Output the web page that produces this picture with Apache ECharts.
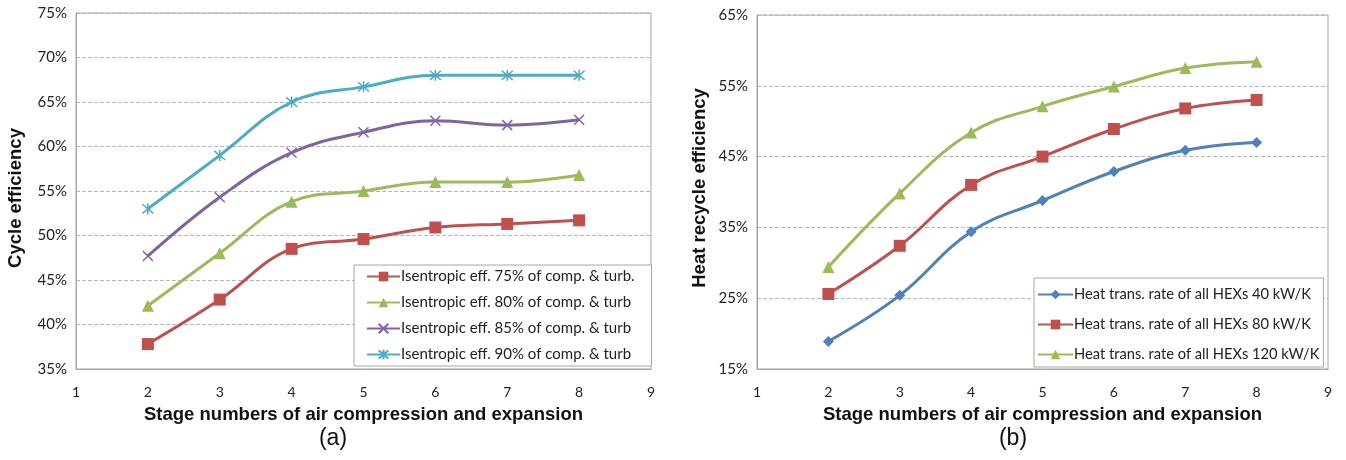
<!DOCTYPE html>
<html>
<head>
<meta charset="utf-8">
<script src="https://cdn.jsdelivr.net/npm/echarts@6/dist/echarts.min.js"></script>
<style>
  html, body { margin: 0; padding: 0; background: #fff; }
  #chart { width: 1346px; height: 460px; }
</style>
</head>
<body>
<div id="chart"></div>
<script>
// stage numbers (x)
var stages = [2, 3, 4, 5, 6, 7, 8];

// (a) cycle efficiency, %
var eff75 = [37.8, 42.8, 48.5, 49.6, 50.9, 51.3, 51.7];
var eff80 = [42.1, 48.0, 53.8, 55.0, 56.0, 56.0, 56.8];
var eff85 = [47.7, 54.3, 59.3, 61.6, 62.9, 62.4, 63.0];
var eff90 = [53.0, 59.0, 65.0, 66.7, 68.0, 68.0, 68.0];

// (b) heat recycle efficiency, %
var hex40 = [18.9, 25.4, 34.4, 38.8, 42.9, 45.9, 47.0];
var hex80 = [25.6, 32.4, 41.0, 45.0, 48.9, 51.8, 53.0];
var hex120 = [29.4, 39.8, 48.4, 52.1, 54.9, 57.5, 58.4];

var namesA = [
  "Isentropic eff. 75% of comp. & turb.",
  "Isentropic eff. 80% of comp. & turb",
  "Isentropic eff. 85% of comp. & turb",
  "Isentropic eff. 90% of comp. & turb"
];
var namesB = [
  "Heat trans. rate of all HEXs 40 kW/K",
  "Heat trans. rate of all HEXs 80 kW/K",
  "Heat trans. rate of all HEXs 120 kW/K"
];

var RED = "#C0504D", GREEN = "#9BBB59", PURPLE = "#8064A2", CYAN = "#4BACC6", BLUE = "#4F81BD";
var labelFont = "Lato, 'Open Sans', sans-serif";
var titleFont = "Arial, 'Liberation Sans', sans-serif";

function pairs(ys) {
  return stages.map(function (x, i) { return [x, ys[i]]; });
}

var X_SYM = "path://M0,0L10,10M10,0L0,10";
var STAR_SYM = "path://M0,0L10,10M10,0L0,10M5,-1L5,11";

function line(name, ys, color, idx, symbol, size, stroked) {
  var s = {
    name: name,
    type: "line",
    xAxisIndex: idx,
    yAxisIndex: idx,
    data: pairs(ys),
    smooth: 0.4,
    symbol: symbol,
    symbolSize: size,
    lineStyle: { color: color, width: 3 },
    itemStyle: { color: color }
  };
  if (stroked) {
    s.itemStyle = { color: color, borderColor: color, borderWidth: 1.5 };
  }
  return s;
}

function xAxis(idx) {
  return {
    gridIndex: idx,
    type: "value",
    min: 1, max: 9, interval: 1,
    name: "Stage numbers of air compression and expansion",
    nameLocation: "middle",
    nameGap: 36,
    nameTextStyle: { fontFamily: titleFont, fontWeight: "bold", fontSize: 18.5, color: "#111" },
    axisLine: { show: true, lineStyle: { color: "#a6a6a6" } },
    axisTick: { show: false },
    axisLabel: { fontFamily: labelFont, fontSize: 14, color: "#222", margin: 16 },
    splitLine: { show: false }
  };
}

function yAxis(idx, name, min, max, interval, gap, pad) {
  return {
    gridIndex: idx,
    type: "value",
    min: min, max: max, interval: interval,
    name: name,
    nameLocation: "middle",
    nameGap: gap,
    nameTextStyle: { fontFamily: titleFont, fontWeight: "bold", fontSize: 18.5, color: "#111", padding: pad },
    axisLine: { show: true, lineStyle: { color: "#a6a6a6" } },
    axisTick: { show: false },
    axisLabel: { fontFamily: labelFont, fontSize: 15, color: "#222", margin: 9, formatter: "{value}%" },
    splitLine: { show: true, lineStyle: { color: "#b8b8b8", type: "dashed" } }
  };
}

var chart = echarts.init(document.getElementById("chart"));
chart.setOption({
  animation: false,
  backgroundColor: "#fff",
  grid: [
    { left: 76, top: 13, width: 575, height: 356, show: true, borderColor: "#a6a6a6", borderWidth: 1 },
    { left: 757, top: 15, width: 571, height: 354, show: true, borderColor: "#a6a6a6", borderWidth: 1 }
  ],
  xAxis: [xAxis(0), xAxis(1)],
  yAxis: [
    yAxis(0, "Cycle efficiency", 35, 75, 5, 51, [0, 14, 0, 0]),
    yAxis(1, "Heat recycle efficiency", 15, 65, 10, 48, [0, 0, 0, 8])
  ],
  legend: [
    {
      data: namesA,
      orient: "vertical",
      left: 354, top: 265,
      padding: [4, 17, 4, 12],
      itemWidth: 33, itemHeight: 12, itemGap: 11,
      backgroundColor: "#fff",
      borderColor: "#a6a6a6", borderWidth: 1,
      textStyle: { fontFamily: labelFont, fontSize: 15, color: "#222", padding: [0, 0, 0, -4] }
    },
    {
      data: namesB,
      orient: "vertical",
      left: 1034, top: 278,
      padding: [9, 4, 5, 3],
      itemWidth: 35, itemHeight: 12, itemGap: 15,
      backgroundColor: "#fff",
      borderColor: "#a6a6a6", borderWidth: 1,
      textStyle: { fontFamily: labelFont, fontSize: 14.7, color: "#222", padding: [0, 0, 0, -4] }
    }
  ],
  graphic: [
    { type: "text", x: 333, y: 439, style: { text: "(a)", font: "23px " + titleFont, fill: "#111", align: "center", verticalAlign: "middle" } },
    { type: "text", x: 1013, y: 439, style: { text: "(b)", font: "23px " + titleFont, fill: "#111", align: "center", verticalAlign: "middle" } }
  ],
  series: [
    line(namesA[0], eff75, RED, 0, "rect", 12, false),
    line(namesA[1], eff80, GREEN, 0, "triangle", 12, false),
    line(namesA[2], eff85, PURPLE, 0, X_SYM, 10, true),
    line(namesA[3], eff90, CYAN, 0, STAR_SYM, 11, true),
    line(namesB[0], hex40, BLUE, 1, "diamond", 11, false),
    line(namesB[1], hex80, RED, 1, "rect", 12, false),
    line(namesB[2], hex120, GREEN, 1, "triangle", 12, false)
  ]
});
</script>
</body>
</html>
